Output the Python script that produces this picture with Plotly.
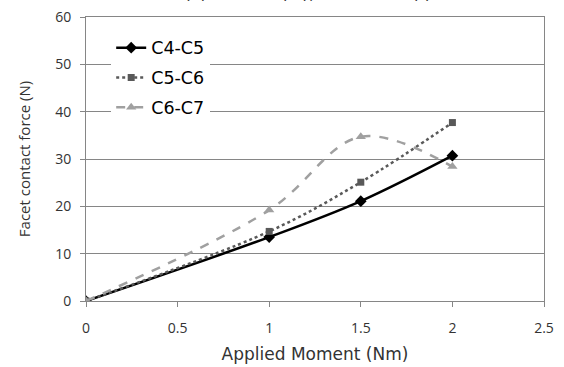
import plotly.graph_objects as go

moment = [0, 1, 1.5, 2]
c4c5 = [0, 13.5, 21.1, 30.7]
c5c6 = [0, 14.7, 25.1, 37.7]
c6c7 = [0, 19.2, 34.7, 28.4]
series_names = ["C4-C5", "C5-C6", "C6-C7"]
title_text = "(c) Flexion (+), Extension (-)"

FONT = "Open Sans"
WIDE = "DejaVu Sans"
TXT = "#333333"
fig = go.Figure()
fig.add_trace(go.Scatter(x=moment, y=c4c5, name=series_names[0], legendgroup="a", mode="lines+markers",
                         line=dict(color="#000000", width=2.5, shape="spline"),
                         marker=dict(symbol="diamond", size=9, color="#000000")))
fig.add_trace(go.Scatter(x=moment, y=c5c6, name=series_names[1], legendgroup="b", mode="lines+markers",
                         line=dict(color="#595959", width=2.5, dash="dot", shape="spline"),
                         marker=dict(symbol="square", size=7, color="#595959")))
fig.add_trace(go.Scatter(x=moment, y=c6c7, name=series_names[2], legendgroup="c", mode="lines+markers",
                         line=dict(color="#a0a0a0", width=2.5, dash="dash", shape="spline"),
                         marker=dict(symbol="triangle-up", size=9, color="#a0a0a0")))

fig.update_layout(
    width=564, height=367,
    margin=dict(l=86, r=20, t=17, b=66, autoexpand=False),
    paper_bgcolor="white", plot_bgcolor="white",
    font=dict(family=FONT, size=14, color=TXT),
    showlegend=True,
    legend=dict(x=0.055, y=0.955, xanchor="left", yanchor="top", bgcolor="white",
                font=dict(family=WIDE, size=17.5, color="#000000"), tracegroupgap=4),
    annotations=[dict(text=title_text, xref="paper", yref="paper", x=0.485, y=1.0,
                      xanchor="center", yanchor="bottom", yshift=12, showarrow=False,
                      font=dict(family=WIDE, size=17.5, color=TXT))],
)
fig.update_xaxes(range=[0, 2.5], dtick=0.5, showgrid=False, showline=True, linecolor="#868686",
                 linewidth=1, mirror=True, ticks="outside", ticklen=5, tickcolor="#868686",
                 zeroline=False, tickfont=dict(size=14, color=TXT), ticklabelstandoff=9,
                 automargin=False,
                 title=dict(text="Applied Moment (Nm)", font=dict(family=WIDE, size=17, color=TXT), standoff=12))
fig.update_yaxes(range=[0, 60], dtick=10, showgrid=True, gridcolor="#868686", gridwidth=1,
                 showline=True, linecolor="#868686", linewidth=1, mirror=True,
                 ticks="outside", ticklen=5, tickcolor="#868686", zeroline=False,
                 tickfont=dict(size=14, color=TXT), ticklabelstandoff=6, automargin=False,
                 title=dict(text="Facet contact force (N)", font=dict(size=15, color=TXT), standoff=20))
fig.write_html("out.html", config={"displayModeBar": False},
               post_script="document.body.style.margin='0';")
